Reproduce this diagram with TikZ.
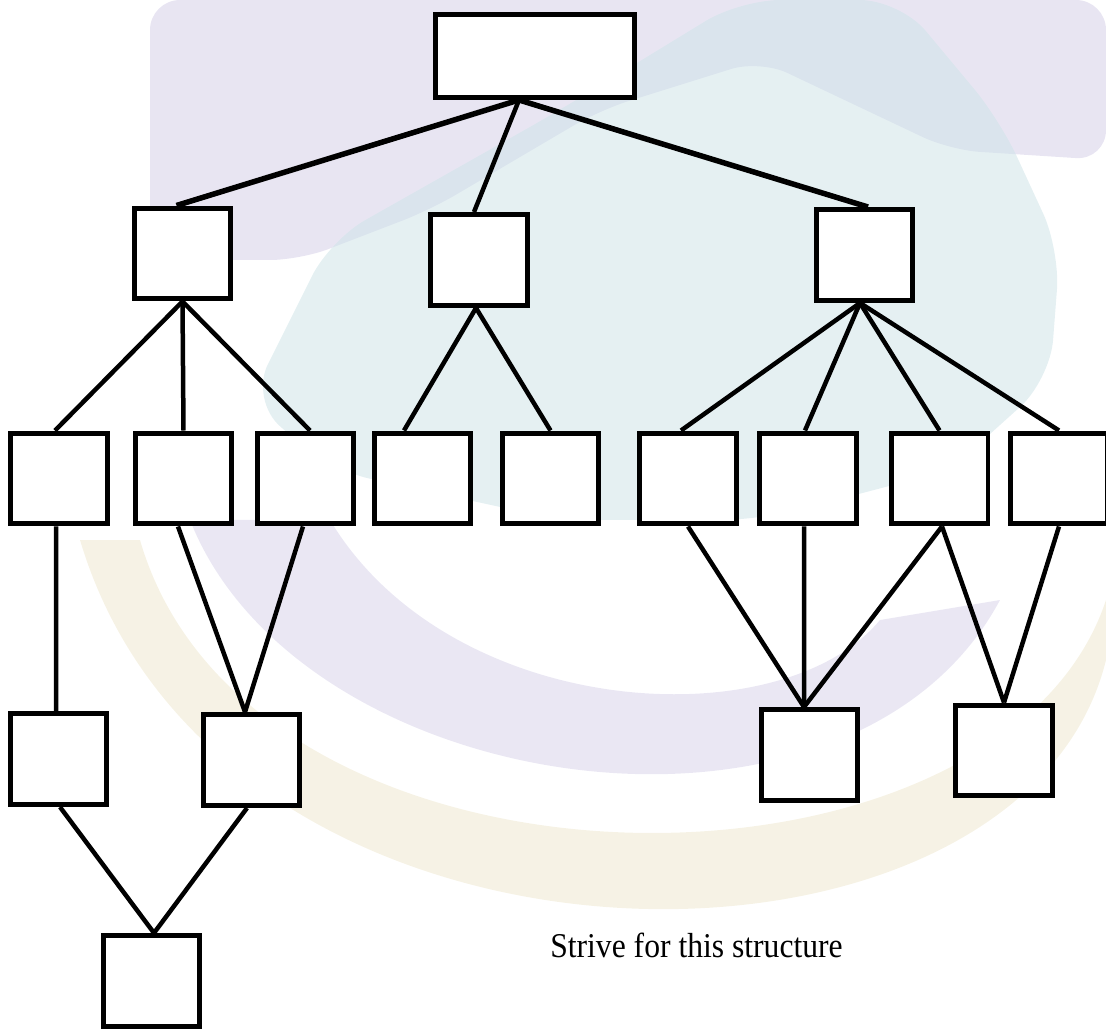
\documentclass[tikz,border=0pt]{standalone}
\usepackage{fontspec}
\setmainfont{Liberation Serif}
\usepackage{graphicx}
\usetikzlibrary{positioning}
\definecolor{sealviolet}{RGB}{214,208,232}
\definecolor{sealcyan}{RGB}{208,228,232}
\definecolor{sealgold}{RGB}{240,234,212}
\tikzset{box/.style = {draw, fill=white, line width=0.1cm, inner sep=0pt,
                       minimum width=1.94cm, minimum height=1.82cm},
         link/.style = {line width=0.09cm}}

\begin{document}
\begin{tikzpicture}[x=0.02cm, y=-0.02cm]
    \clip (0,0) rectangle (1106,1030);

    % faded seal in the back
    \fill[sealviolet, opacity=0.55, rounded corners=0.6cm]
        (150,0) -- (1106,0) -- (1106,160) -- (950,150) -- (760,60)
        -- (600,110) -- (430,210) -- (300,260) -- (150,260) -- cycle;
    \fill[sealcyan, opacity=0.55, rounded corners=0.8cm]
        (740,0) -- (900,0) -- (1000,120) -- (1060,250) -- (1050,380)
        -- (950,470) -- (760,520) -- (560,520) -- (330,470) -- (250,400)
        -- (330,240) -- (560,110) -- cycle;
    \fill[sealviolet, opacity=0.5]
        (190,520) .. controls (300,800) and (850,880) .. (1000,600)
        -- (880,620) .. controls (780,740) and (450,720) .. (330,520) -- cycle;
    \fill[sealgold, opacity=0.6]
        (80,540) .. controls (220,1010) and (1020,1010) .. (1106,660)
        -- (1106,600) .. controls (1000,920) and (250,920) .. (140,540) -- cycle;

    % boxes, level by level
    \node[box, minimum width=3.98cm, minimum height=1.66cm] (1) at (535,56) {};

    \node[box] (2) at (182.5,253.5) {};
    \node[box] (3) at (479,260) {};
    \node[box] (4) at (864.5,255) {};

    \node[box] (5) at (59,478.5) {};
    \node[box] (6) at (183.5,478.5) {};
    \node[box] (7) at (305.5,478.5) {};
    \node[box] (8) at (422.5,478.5) {};
    \node[box] (9) at (550.5,478.5) {};
    \node[box] (10) at (688,478.5) {};
    \node[box] (11) at (808,478.5) {};
    \node[box] (12) at (939.5,478.5) {};
    \node[box] (13) at (1059,478.5) {};

    \node[box] (14) at (58.5,759) {};
    \node[box] (15) at (251.5,760) {};
    \node[box] (16) at (809.5,755) {};
    \node[box] (17) at (1004,750.5) {};

    \node[box] (18) at (151.5,981) {};

    \node[anchor=base] (note) at (696.5,957)
        {\scalebox{1}[1.1]{\fontsize{18pt}{20pt}\selectfont Strive for this structure}};

    % links
    \draw[link, line width=0.11cm] ([xshift=-0.32cm]1.south) edge ([xshift=-0.12cm]2.north)
          ([xshift=-0.32cm]1.south) edge ([xshift=0.07cm]4.north);
    \draw[link] ([xshift=-0.32cm]1.south) edge ([xshift=-0.1cm]3.north)

          (2.south) edge ([xshift=-0.08cm]5.north)
          (2.south) edge (6.north)
          (2.south) edge ([xshift=0.09cm]7.north)
          ([xshift=-0.06cm]3.south) edge ([xshift=-0.37cm]8.north)
          ([xshift=-0.06cm]3.south) edge (9.north)
          ([xshift=-0.09cm]4.south) edge ([xshift=-0.14cm]10.north)
          ([xshift=-0.09cm]4.south) edge ([xshift=-0.06cm]11.north)
          ([xshift=-0.09cm]4.south) edge (12.north)
          ([xshift=-0.09cm]4.south) edge (13.north)

          ([xshift=-0.06cm]5.south) edge ([xshift=-0.05cm]14.north)
          ([xshift=-0.11cm]6.south) edge ([xshift=-0.13cm]15.north)
          ([xshift=-0.05cm]7.south) edge ([xshift=-0.13cm]15.north)
          (10.south) edge ([xshift=-0.11cm]16.north)
          ([xshift=-0.08cm]11.south) edge ([xshift=-0.11cm]16.north)
          ([xshift=0.05cm]12.south) edge ([xshift=-0.11cm]16.north)
          ([xshift=0.05cm]12.south) edge (17.north)
          (13.south) edge (17.north)

          ([xshift=0.03cm]14.south) edge ([xshift=0.05cm]18.north)
          ([xshift=-0.09cm]15.south) edge ([xshift=0.05cm]18.north);
\end{tikzpicture}
\end{document}
